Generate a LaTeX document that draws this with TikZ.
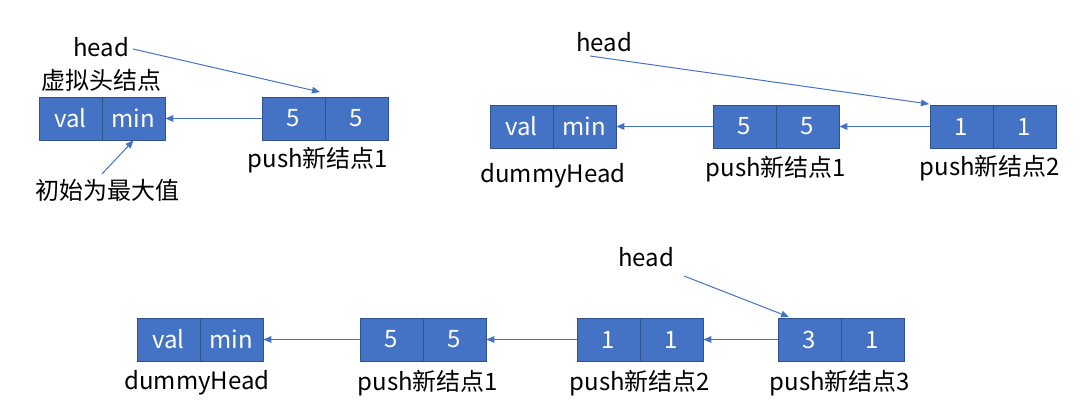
\documentclass[tikz,border=0pt]{standalone}
\usepackage{fontspec}
\setmainfont{Noto Sans CJK SC}
\usetikzlibrary{arrows.meta}
\definecolor{cellblue}{HTML}{4472C4}
\definecolor{celledge}{HTML}{2F528F}
\begin{document}
\begin{tikzpicture}[x=0.75pt,y=-0.75pt,
  cell/.style={draw=celledge,fill=cellblue,line width=0.6pt,minimum width=47.25pt,minimum height=32.25pt,inner sep=0pt,text=white,font=\fontsize{18}{20}\selectfont},
  lbl/.style={font=\fontsize{18}{20}\selectfont,text=black,inner sep=0pt},
  link/.style={draw=cellblue,line width=0.75pt,-{Triangle[length=6pt,width=5pt]}}]
\useasboundingbox (0,0) rectangle (1082,416);
% ---------- group 1 ----------
\node[cell] (g1dv) at (70.5,118.5) {val};
\node[cell] (g1dm) at (133.5,118.5) {min};
\node[cell] (g1av) at (293.5,118.5) {5};
\node[cell] (g1am) at (356.5,118.5) {5};
\node[lbl] (g1head) at (101,47) {head};
\node[lbl] (g1dlab) at (101,80) {虚拟头结点};
\node[lbl] (g1alab) at (318,160) {push新结点1};
\node[lbl] (g1init) at (108,190) {初始为最大值};
\coordinate (g1hs) at (133,49);
\coordinate (g1he) at (320,92);
\coordinate (g1is) at (102,174);
\draw[link] (g1av.west) -- (g1dm.east);
\draw[link] (g1hs) -- (g1he);
\draw[link] (g1is) -- (g1dm.south);
% ---------- group 2 ----------
\node[cell] (g2dv) at (521.5,126.5) {val};
\node[cell] (g2dm) at (584.5,126.5) {min};
\node[cell] (g2av) at (744.5,126.5) {5};
\node[cell] (g2am) at (807.5,126.5) {5};
\node[cell] (g2bv) at (961.5,126.5) {1};
\node[cell] (g2bm) at (1024.5,126.5) {1};
\node[lbl] (g2head) at (604,42) {head};
\node[lbl] (g2dlab) at (553,176) {dummyHead};
\node[lbl] (g2alab) at (776,169) {push新结点1};
\node[lbl] (g2blab) at (990,168) {push新结点2};
\coordinate (g2hs) at (590,56);
\coordinate (g2he) at (929,104);
\draw[link] (g2av.west) -- (g2dm.east);
\draw[link] (g2bv.west) -- (g2am.east);
\draw[link] (g2hs) -- (g2he);
% ---------- group 3 ----------
\node[cell] (g3dv) at (168.5,339.5) {val};
\node[cell] (g3dm) at (231.5,339.5) {min};
\node[cell] (g3av) at (391.5,339.5) {5};
\node[cell] (g3am) at (454.5,339.5) {5};
\node[cell] (g3bv) at (608.5,339.5) {1};
\node[cell] (g3bm) at (671.5,339.5) {1};
\node[cell] (g3cv) at (809.5,339.5) {3};
\node[cell] (g3cm) at (872.5,339.5) {1};
\node[lbl] (g3head) at (646,257) {head};
\node[lbl] (g3dlab) at (197,383) {dummyHead};
\node[lbl] (g3alab) at (428,383) {push新结点1};
\node[lbl] (g3blab) at (640,383) {push新结点2};
\node[lbl] (g3clab) at (840,383) {push新结点3};
\coordinate (g3hs) at (684,276);
\coordinate (g3he) at (789,317);
\draw[link] (g3av.west) -- (g3dm.east);
\draw[link] (g3bv.west) -- (g3am.east);
\draw[link] (g3cv.west) -- (g3bm.east);
\draw[link] (g3hs) -- (g3he);
\end{tikzpicture}
\end{document}
